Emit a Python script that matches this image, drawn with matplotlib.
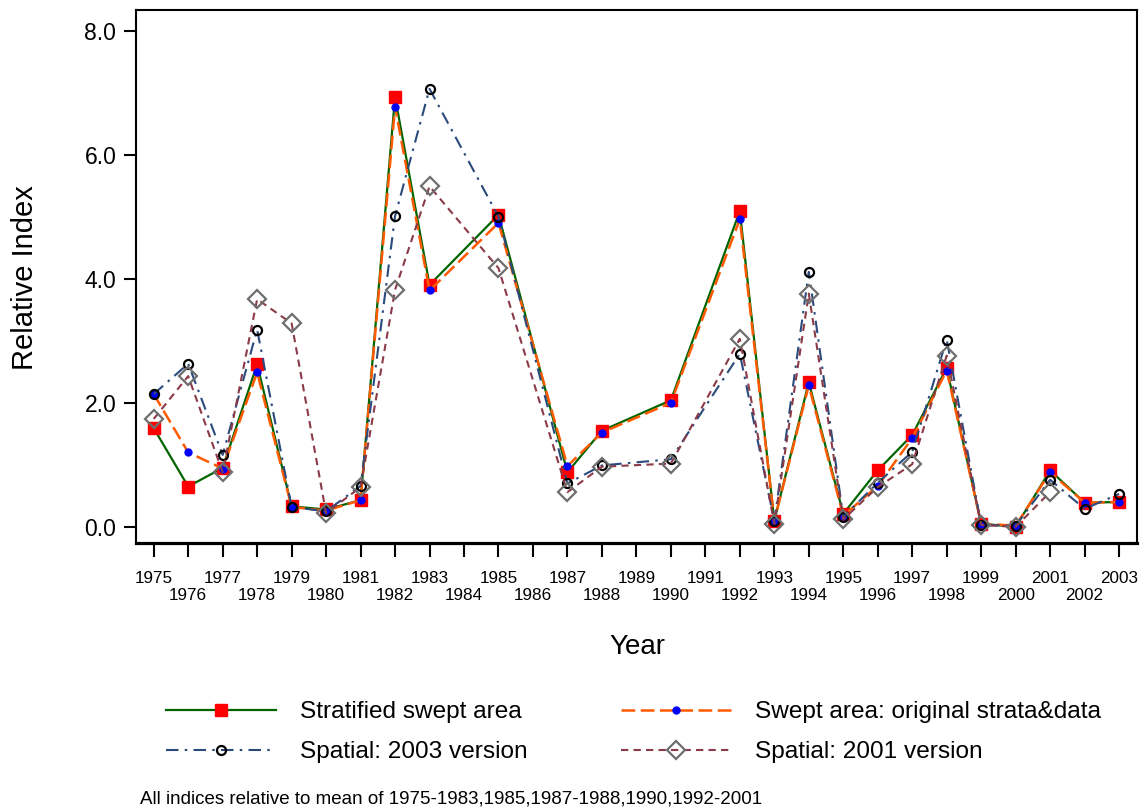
import matplotlib
matplotlib.use('Agg')
import matplotlib.pyplot as plt
from matplotlib import font_manager
import numpy as np

# Données (NaN = année sans relevé)
years = list(range(1975, 2004))
nan = np.nan

stratified = [1.59, 0.65, 0.95, 2.62, 0.33, 0.28, 0.43, 6.93, 3.90, nan, 5.03, nan,
              0.88, 1.55, nan, 2.04, nan, 5.09, 0.10, 2.33, 0.21, 0.91, 1.48, 2.56,
              0.05, 0.00, 0.91, 0.39, 0.40]
swept_orig = [2.14, 1.20, 0.94, 2.49, 0.32, 0.26, 0.43, 6.77, 3.81, nan, 4.90, nan,
              0.98, 1.52, nan, 2.00, nan, 4.96, 0.10, 2.28, 0.18, 0.66, 1.43, 2.52,
              0.05, 0.02, 0.88, 0.39, 0.40]
spatial_2003 = [2.14, 2.63, 1.16, 3.18, 0.32, 0.25, 0.66, 5.01, 7.06, nan, 5.00, nan,
                0.70, 0.99, nan, 1.09, nan, 2.79, 0.09, 4.11, 0.16, 0.71, 1.21, 3.02,
                0.03, 0.02, 0.76, 0.29, 0.53]
spatial_2001 = [1.74, 2.43, 0.88, 3.67, 3.28, 0.22, 0.64, 3.82, 5.49, nan, 4.17, nan,
                0.56, 0.97, nan, 1.02, nan, 3.03, 0.05, 3.76, 0.12, 0.64, 1.01, 2.76,
                0.03, 0.00, 0.56, nan, nan]

labels = ['Stratified swept area', 'Swept area: original strata&data',
          'Spatial: 2003 version', 'Spatial: 2001 version']
footnote = 'All indices relative to mean of 1975-1983,1985,1987-1988,1990,1992-2001'

# Police étroite si disponible (texte de légende comprimé sur l'original)
installed = {f.name for f in font_manager.fontManager.ttflist}
has_narrow = 'Liberation Sans Narrow' in installed
plt.rcParams['font.family'] = ['Liberation Sans', 'DejaVu Sans']
narrow = ['Liberation Sans Narrow', 'Liberation Sans'] if has_narrow else ['Liberation Sans']
leg_size = 21.5 if has_narrow else 17.6
foot_size = 16.3 if has_narrow else 13.5

fig = plt.figure(figsize=(11.41, 8.08), dpi=100)
ax = fig.add_axes([0.119, 0.328, 0.8775, 0.6595])

x = np.array(years)

def series(vals):
    v = np.array(vals, dtype=float)
    m = ~np.isnan(v)
    return x[m], v[m]

xs, ys = series(stratified)
l1, = ax.plot(xs, ys, color='#006400', lw=1.6, marker='s', ms=8.6,
              mfc='#ff0000', mec='#ff0000', zorder=3)
xs, ys = series(swept_orig)
l2, = ax.plot(xs, ys, color='#ff5a00', lw=1.8, ls=(0, (5.5, 2.2)), marker='o', ms=5,
              mfc='#0000ff', mec='#0000ff', zorder=4)
xs, ys = series(spatial_2003)
l3, = ax.plot(xs, ys, color='#2b4a7c', lw=1.5, ls=(0, (6, 3, 1.2, 3)), marker='o', ms=6.5,
              mfc='none', mec='black', mew=1.6, zorder=5)
xs, ys = series(spatial_2001)
l4, = ax.plot(xs, ys, color='#8b3a48', lw=1.5, ls=(0, (3.5, 2.5)), marker='D', ms=9,
              mfc='none', mec='#6e6e6e', mew=1.6, zorder=6)

ax.set_xlim(1974.48, 2003.52)
ax.set_ylim(-0.26, 8.33)
ax.set_yticks([0, 2, 4, 6, 8])
ax.set_yticklabels(['0.0', '2.0', '4.0', '6.0', '8.0'], fontsize=16.5)
ax.set_xticks(years)
ax.set_xticklabels([str(y) if y % 2 else '\n' + str(y) for y in years], fontsize=12.3,
                   linespacing=1.15)
ax.tick_params(axis='y', length=9, width=1.5, pad=5)
ax.tick_params(axis='x', length=10, width=1.5, pad=10)

for side in ['top', 'right', 'left']:
    ax.spines[side].set_linewidth(1.5)
ax.spines['bottom'].set_linewidth(2.3)

fig.text(25 / 1141, 1 - 278 / 808, 'Relative Index', rotation=90, fontsize=21,
         ha='center', va='center')
fig.text(637 / 1141, 1 - 647 / 808, 'Year', fontsize=20, ha='center', va='center')

leg = fig.legend([l1, l3, l2, l4], [labels[0], labels[2], labels[1], labels[3]],
                 ncol=2, loc='upper left', bbox_to_anchor=(144 / 1141, 1 - 679 / 808),
                 frameon=False, handlelength=4.5, handletextpad=1.0,
                 columnspacing=3.8, labelspacing=0.74, numpoints=1,
                 prop={'family': narrow, 'size': leg_size})

fig.text(140 / 1141, 1 - 799 / 808, footnote, fontsize=foot_size, family=narrow,
         ha='left', va='center')

fig.savefig('out.png', dpi=100)
